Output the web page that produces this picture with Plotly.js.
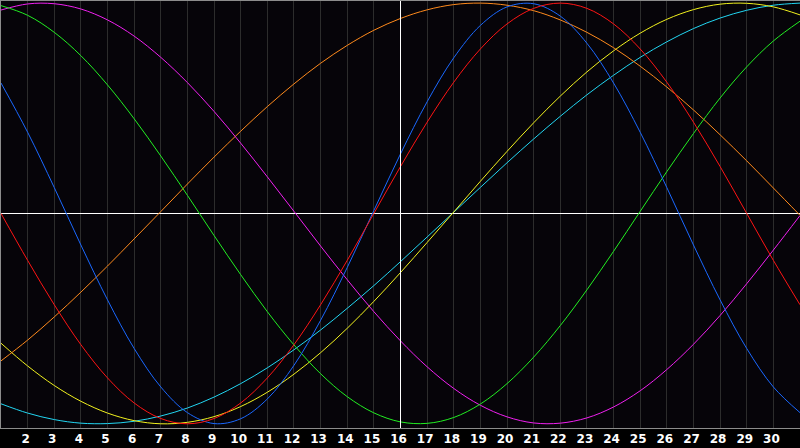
<!DOCTYPE html>
<html>
<head>
<meta charset="utf-8">
<script src="https://cdn.plot.ly/plotly-3.0.1.min.js"></script>
<style>
  html, body { margin: 0; padding: 0; background: #000; }
  #chart { width: 800px; height: 448px; }
</style>
</head>
<body>
<div id="chart"></div>
<script>
// days shown on the x axis
const days = [1, 2, 3, 4, 5, 6, 7, 8, 9, 10, 11, 12, 13, 14, 15, 16,
    17, 18, 19, 20, 21, 22, 23, 24, 25, 26, 27, 28, 29, 30, 31];
const tickDays = [2, 3, 4, 5, 6, 7, 8, 9, 10, 11, 12, 13, 14, 15, 16,
    17, 18, 19, 20, 21, 22, 23, 24, 25, 26, 27, 28, 29, 30];
const today = 16;

// cycle values, one per day (-1 .. 1)
const redVals = [0, -0.223, -0.434, -0.624, -0.782, -0.901, -0.975, -1, -0.975, -0.901,
    -0.782, -0.624, -0.434, -0.223, 0, 0.223, 0.434, 0.624, 0.782, 0.901, 0.975, 1,
    0.975, 0.901, 0.782, 0.624, 0.434, 0.223, 0, -0.223, -0.434];
const blueVals = [0.620, 0.386, 0.123, -0.150, -0.411, -0.642, -0.825, -0.947, -0.999,
    -0.976, -0.882, -0.722, -0.508, -0.257, 0.014, 0.283, 0.531, 0.740, 0.894, 0.982,
    0.997, 0.938, 0.809, 0.620, 0.386, 0.123, -0.150, -0.411, -0.642, -0.825, -0.947];
const greenVals = [0.988, 0.942, 0.861, 0.750, 0.611, 0.450, 0.273, 0.086, -0.105,
    -0.291, -0.467, -0.625, -0.762, -0.871, -0.948, -0.991, -0.998, -0.970, -0.906,
    -0.809, -0.683, -0.533, -0.363, -0.180, 0.010, 0.199, 0.380, 0.549, 0.697, 0.820, 0.914];
const magentaVals = [0.967, 0.996, 0.997, 0.972, 0.920, 0.843, 0.742, 0.622, 0.485,
    0.334, 0.174, 0.010, -0.155, -0.315, -0.467, -0.606, -0.729, -0.832, -0.912, -0.967,
    -0.996, -0.997, -0.972, -0.920, -0.843, -0.742, -0.622, -0.485, -0.334, -0.174, -0.010];
const orangeVals = [-0.701, -0.602, -0.492, -0.374, -0.250, -0.121, 0.009, 0.140, 0.268,
    0.391, 0.508, 0.616, 0.714, 0.799, 0.871, 0.927, 0.968, 0.993, 1, 0.990, 0.964, 0.920,
    0.861, 0.788, 0.700, 0.601, 0.492, 0.374, 0.250, 0.121, -0.009];
const yellowVals = [-0.617, -0.725, -0.818, -0.893, -0.949, -0.985, -1, -0.993, -0.966,
    -0.918, -0.850, -0.764, -0.662, -0.546, -0.418, -0.281, -0.138, 0.007, 0.153, 0.295,
    0.431, 0.558, 0.673, 0.773, 0.857, 0.923, 0.969, 0.995, 0.999, 0.982, 0.944];
const cyanVals = [-0.905, -0.949, -0.980, -0.997, -0.999, -0.988, -0.963, -0.925, -0.873,
    -0.809, -0.734, -0.648, -0.554, -0.451, -0.343, -0.229, -0.112, 0.006, 0.124, 0.241,
    0.354, 0.462, 0.564, 0.657, 0.742, 0.816, 0.879, 0.929, 0.966, 0.990, 1];

const yRange = [-1.02, 1.01];

function makeTrace(vals, color) {
    return {
        x: days,
        y: vals,
        type: 'scatter',
        mode: 'lines',
        line: {color: color, width: 1, shape: 'spline', smoothing: 1},
        hoverinfo: 'skip'
    };
}

const data = [
    makeTrace(cyanVals, '#22d6f2'),
    makeTrace(yellowVals, '#f2f21e'),
    makeTrace(orangeVals, '#ff8a1c'),
    makeTrace(magentaVals, '#f020f0'),
    makeTrace(greenVals, '#22ee22'),
    makeTrace(blueVals, '#1a68ff'),
    makeTrace(redVals, '#ff1414')
];

const layout = {
    width: 800,
    height: 448,
    margin: {l: 1, r: 0, t: 1, b: 20},
    paper_bgcolor: '#000000',
    plot_bgcolor: '#060409',
    showlegend: false,
    xaxis: {
        range: [1, 31],
        tickmode: 'array',
        tickvals: tickDays,
        ticktext: tickDays.map(String),
        ticks: '',
        ticklabelshift: -2,
        tickfont: {family: 'DejaVu Sans', size: 12, weight: 'bold', color: '#ffffff'},
        showgrid: true,
        gridcolor: '#2c2c2c',
        gridwidth: 1,
        zeroline: false,
        showline: true,
        linecolor: '#8c8c8c',
        linewidth: 1,
        mirror: true,
        fixedrange: true
    },
    yaxis: {
        range: yRange,
        showticklabels: false,
        ticks: '',
        showgrid: false,
        zeroline: true,
        zerolinecolor: '#ffffff',
        zerolinewidth: 1,
        showline: true,
        linecolor: '#8c8c8c',
        linewidth: 1,
        fixedrange: true
    },
    shapes: [{
        type: 'line',
        xref: 'x', yref: 'y',
        x0: today, x1: today, y0: yRange[0], y1: yRange[1],
        line: {color: '#ffffff', width: 1}
    }]
};

Plotly.newPlot('chart', data, layout, {staticPlot: true, displayModeBar: false});
</script>
</body>
</html>
